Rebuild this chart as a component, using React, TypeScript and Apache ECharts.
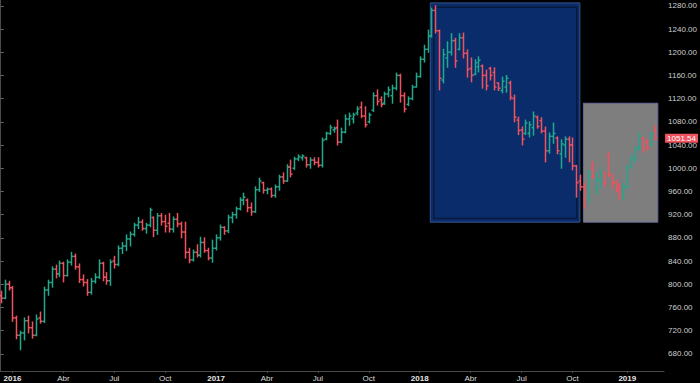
import React, { useEffect, useRef } from "react";
import * as echarts from "echarts";

// Weekly OHLC (week index 0 = week of 14 Dec 2015, last = week of 25 Feb 2019)
const opens = [
  780, 776, 800, 794, 742, 712, 716, 737, 725, 712, 742, 736, 790, 803, 826, 818, 836, 815, 838, 848,
  830, 808, 803, 786, 805, 812, 836, 812, 806, 840, 834, 862, 866, 878, 886, 902, 907, 896, 902, 915,
  893, 918, 908, 905, 895, 912, 904, 890, 855, 842, 855, 850, 872, 858, 845, 862, 880, 898, 892, 915,
  920, 930, 945, 945, 932, 925, 963, 975, 962, 964, 953, 968, 985, 978, 1002, 1000, 1016, 1018, 1018, 1006,
  1014, 1010, 1005, 1050, 1060, 1066, 1070, 1045, 1062, 1085, 1085, 1095, 1105, 1090, 1080, 1100, 1125, 1118, 1112, 1128,
  1125, 1138, 1160, 1125, 1110, 1120, 1140, 1158, 1188, 1205, 1228, 1272, 1237, 1152, 1190, 1200, 1220, 1205, 1225, 1198,
  1172, 1162, 1175, 1176, 1160, 1172, 1165, 1147, 1134, 1140, 1147, 1120, 1083, 1066, 1060, 1060, 1070, 1088, 1082, 1064,
  1030, 1055, 1052, 1025, 1040, 1050, 1040, 1004, 978, 968, 948, 1000, 965, 980, 992, 1022, 988, 975, 968, 952,
  968, 1002, 1015, 1034, 1052, 1045, 1040, 1066,
];
const highs = [
  788, 807, 805, 796, 745, 719, 742, 745, 735, 747, 752, 795, 807, 830, 833, 840, 838, 842, 855, 852,
  835, 816, 808, 810, 818, 842, 838, 820, 842, 848, 866, 872, 885, 890, 905, 915, 911, 905, 931, 916,
  922, 922, 919, 922, 916, 922, 907, 907, 862, 859, 868, 881, 880, 862, 876, 885, 902, 899, 919, 924,
  933, 949, 957, 947, 940, 968, 983, 976, 966, 966, 971, 988, 992, 1006, 1014, 1019, 1023, 1023, 1019, 1018,
  1018, 1018, 1052, 1062, 1074, 1071, 1083, 1069, 1092, 1095, 1095, 1106, 1114, 1106, 1095, 1130, 1135, 1123, 1131, 1140,
  1143, 1164, 1162, 1130, 1123, 1143, 1164, 1192, 1212, 1238, 1276, 1280, 1238, 1205, 1218, 1232, 1224, 1232, 1233, 1204,
  1190, 1187, 1192, 1178, 1169, 1174, 1173, 1147, 1157, 1160, 1150, 1126, 1088, 1071, 1083, 1080, 1097, 1090, 1087, 1071,
  1061, 1078, 1054, 1049, 1054, 1054, 1052, 1005, 988, 974, 997, 1011, 992, 997, 993, 1028, 988, 980, 974, 974,
  1005, 1023, 1037, 1061, 1054, 1049, 1062, 1074,
];
const lows = [
  768, 775, 790, 736, 706, 687, 704, 716, 707, 711, 733, 734, 781, 795, 811, 813, 804, 814, 833, 826,
  803, 797, 781, 783, 802, 810, 806, 800, 798, 828, 832, 853, 858, 866, 883, 896, 893, 888, 899, 882,
  886, 902, 890, 890, 890, 899, 880, 845, 837, 840, 847, 847, 855, 842, 838, 859, 876, 886, 889, 906,
  914, 928, 937, 925, 919, 924, 960, 957, 956, 950, 950, 962, 974, 977, 985, 998, 1013, 1014, 1002, 1000,
  1006, 1002, 1002, 1049, 1058, 1062, 1040, 1044, 1061, 1074, 1078, 1092, 1087, 1071, 1078, 1098, 1109, 1106, 1110, 1123,
  1112, 1135, 1114, 1097, 1108, 1118, 1140, 1157, 1183, 1200, 1226, 1233, 1135, 1147, 1174, 1195, 1174, 1204, 1190, 1157,
  1149, 1161, 1166, 1138, 1135, 1152, 1135, 1134, 1130, 1131, 1118, 1080, 1058, 1040, 1058, 1054, 1057, 1069, 1061, 1011,
  1026, 1043, 1025, 1000, 1019, 1011, 997, 950, 962, 931, 940, 983, 955, 966, 968, 985, 966, 959, 945, 945,
  966, 1002, 1011, 1031, 1028, 1031, 1040, 1049,
];
const closes = [
  776, 800, 794, 742, 712, 716, 737, 725, 712, 740, 736, 790, 803, 826, 818, 836, 815, 838, 848, 830,
  808, 803, 786, 805, 812, 836, 812, 806, 838, 834, 862, 866, 878, 886, 902, 907, 896, 902, 928, 893,
  918, 908, 900, 895, 912, 904, 890, 855, 842, 855, 850, 872, 858, 845, 862, 880, 898, 892, 915, 920,
  930, 945, 950, 932, 925, 963, 978, 962, 964, 953, 968, 985, 978, 1002, 990, 1016, 1020, 1021, 1006, 1014,
  1010, 1005, 1048, 1060, 1070, 1068, 1045, 1062, 1085, 1090, 1092, 1102, 1090, 1075, 1092, 1125, 1115, 1110, 1128, 1135,
  1138, 1160, 1125, 1102, 1120, 1140, 1158, 1188, 1205, 1228, 1272, 1237, 1155, 1196, 1200, 1220, 1185, 1225, 1198, 1170,
  1160, 1182, 1186, 1160, 1142, 1160, 1140, 1138, 1150, 1155, 1122, 1088, 1065, 1050, 1078, 1075, 1090, 1072, 1064, 1030,
  1055, 1060, 1030, 1042, 1050, 1040, 1004, 975, 968, 948, 990, 986, 980, 992, 975, 990, 975, 962, 952, 968,
  1000, 1018, 1034, 1055, 1035, 1036, 1058, 1051.54,
];

// Quarter tick labels, placed at the week index of each period's first bar
const tickIndex = [3, 16, 29, 42, 55, 68, 81, 94, 107, 120, 133, 146, 160];
const tickLabels = ["2016", "Abr", "Jul", "Oct", "2017", "Abr", "Jul", "Oct", "2018", "Abr", "Jul", "Oct", "2019"];

const yTicks = [680, 720, 760, 800, 840, 880, 920, 960, 1000, 1040, 1080, 1120, 1160, 1200, 1240, 1280];

// Annotation boxes (week index range, price range)
const blueBox = { x0: 109.7, x1: 147.9, y0: 907, y1: 1285 };
const blueInner = { x0: 110.6, x1: 147.1, y0: 913.5, y1: 1277.5 };
const greyBox = { x0: 148.8, x1: 167.8, y0: 907, y1: 1112 };

const lastPrice = 1051.54;
const UP = "#22a88c";
const DOWN = "#f0525e";
const FONT = "Liberation Sans, Arial, sans-serif";

export default function App() {
  const ref = useRef<HTMLDivElement>(null);

  useEffect(() => {
    if (!ref.current) return;
    const chart = echarts.init(ref.current, null, { renderer: "svg" });
    const data = closes.map((c, i) => [i, opens[i], highs[i], lows[i], c]);
    const labelMap: Record<number, string> = {};
    tickIndex.forEach((t, i) => (labelMap[t] = tickLabels[i]));

    chart.setOption({
      animation: false,
      backgroundColor: "#000000",
      grid: { left: 0, right: 32, top: 0, bottom: 12, containLabel: false },
      xAxis: {
        type: "value",
        min: -0.18,
        max: 169.4,
        splitLine: { show: false },
        axisLine: { show: true, lineStyle: { color: "#4a4a4a", width: 1 } },
        axisTick: { show: true, length: 2, lineStyle: { color: "#4a4a4a" }, customValues: tickIndex },
        axisLabel: {
          customValues: tickIndex,
          margin: 3,
          fontSize: 8,
          fontFamily: FONT,
          color: "#d8d8d8",
          formatter: (v: number) => {
            const s = labelMap[Math.round(v)] || "";
            return /^\d{4}$/.test(s) ? `{b|${s}}` : s;
          },
          rich: { b: { fontWeight: "bold", fontSize: 8, color: "#e6e6e6", fontFamily: FONT } },
        },
      },
      yAxis: {
        type: "value",
        position: "right",
        min: 650.4,
        max: 1290,
        scale: true,
        splitLine: { show: false },
        axisLine: { show: true, lineStyle: { color: "#4a4a4a", width: 1 } },
        axisTick: { show: true, length: 3, lineStyle: { color: "#6a6a6a" }, customValues: yTicks },
        axisLabel: {
          customValues: yTicks,
          margin: 4,
          fontSize: 8,
          fontFamily: FONT,
          color: "#cfcfcf",
          formatter: (v: number) => v.toFixed(2),
        },
      },
      series: [
        {
          type: "line",
          data: [],
          z: 1,
          silent: true,
          markArea: {
            silent: true,
            data: [
              [
                { xAxis: blueBox.x0, yAxis: blueBox.y0, itemStyle: { color: "#0a2c6a", borderColor: "#34548c", borderWidth: 1 } },
                { xAxis: blueBox.x1, yAxis: blueBox.y1 },
              ],
              [
                { xAxis: blueInner.x0, yAxis: blueInner.y0, itemStyle: { color: "rgba(0,0,0,0)", borderColor: "#081a3c", borderWidth: 1.5 } },
                { xAxis: blueInner.x1, yAxis: blueInner.y1 },
              ],
              [
                { xAxis: greyBox.x0, yAxis: greyBox.y0, itemStyle: { color: "#7e7e7e", borderColor: "#6a6c9c", borderWidth: 1 } },
                { xAxis: greyBox.x1, yAxis: greyBox.y1 },
              ],
            ],
          },
        },
        {
          type: "custom",
          z: 5,
          clip: true,
          data,
          encode: { x: 0, y: [1, 2, 3, 4] },
          renderItem: (_p: any, api: any) => {
            const x = api.value(0);
            const o = api.value(1);
            const h = api.value(2);
            const l = api.value(3);
            const c = api.value(4);
            const pH = api.coord([x, h]);
            const pL = api.coord([x, l]);
            const pO = api.coord([x, o]);
            const pC = api.coord([x, c]);
            const color = c >= o ? UP : DOWN;
            const cx = Math.round(pH[0]) + 0.5;
            const st = { stroke: color, lineWidth: 1.5 };
            return {
              type: "group",
              children: [
                { type: "line", shape: { x1: cx, y1: pH[1] - 0.5, x2: cx, y2: pL[1] + 0.5 }, style: st },
                { type: "line", shape: { x1: cx - 2, y1: pO[1], x2: cx, y2: pO[1] }, style: st },
                { type: "line", shape: { x1: cx, y1: pC[1], x2: cx + 2, y2: pC[1] }, style: st },
              ],
            };
          },
          markLine: {
            silent: true,
            symbol: "none",
            lineStyle: { color: "transparent", width: 1 },
            data: [{ yAxis: lastPrice }],
            label: {
              show: true,
              position: "end",
              distance: 1,
              formatter: lastPrice.toFixed(2),
              backgroundColor: DOWN,
              color: "#ffffff",
              fontSize: 8,
              lineHeight: 9,
              fontFamily: FONT,
              padding: [0, 2, 0, 2],
            },
          },
        },
      ],
    });
    return () => chart.dispose();
  }, []);

  return (
    <div
      ref={ref}
      style={{ position: "fixed", left: 0, top: 0, width: 700, height: 383, background: "#000" }}
    />
  );
}
